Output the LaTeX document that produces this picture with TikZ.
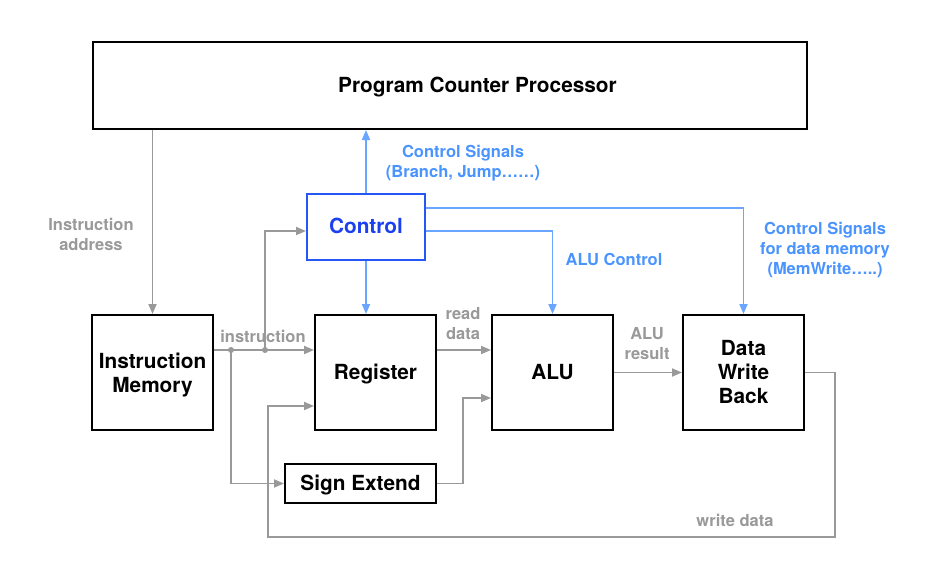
\documentclass[tikz,border=0pt]{standalone}
\usepackage{fontspec}
\setmainfont{TeX Gyre Heros}
\usetikzlibrary{arrows.meta}
\definecolor{gr}{HTML}{999999}
\definecolor{bl}{HTML}{6AA6FF}
\definecolor{bltxt}{HTML}{4A94FF}
\definecolor{cbox}{HTML}{2457F5}
\definecolor{ctxt}{HTML}{1A40F0}
\begin{document}
\begin{tikzpicture}[x=1pt,y=-1pt,
  box/.style={draw=black,line width=2pt,fill=white,inner sep=0pt,align=center,font=\fontsize{20.8}{24}\selectfont\bfseries},
  one/.style={text height=14.9pt,text depth=0pt},
  garr/.style={draw=gr,line width=1.8pt,-{Triangle[length=10pt,width=8pt]}},
  gline/.style={draw=gr,line width=1.8pt},
  barr/.style={draw=bl,line width=1.8pt,-{Triangle[length=10pt,width=8pt]}},
  glab/.style={text=gr,align=center,inner sep=0pt,font=\fontsize{16.5}{20}\selectfont\bfseries},
  blab/.style={text=bltxt,align=center,inner sep=0pt,font=\fontsize{16.5}{20}\selectfont\bfseries},
  dot/.style={fill=gr,circle,inner sep=0pt,minimum size=6pt}]
\useasboundingbox (0,0) rectangle (929,581);
\fill[white] (0,0) rectangle (929,581);
% boxes
\node[box,one,minimum width=714pt,minimum height=87pt] (pc) at (450,85.5) {\hspace*{55pt}Program Counter Processor};
\node[box,minimum width=121pt,minimum height=115pt] (im) at (152.5,372.5) {Instruction\\\smash{Memory}};
\node[box,one,draw=cbox,text=ctxt,minimum width=118pt,minimum height=66pt] (ctl) at (366,226.5) {Control};
\node[box,one,minimum width=121pt,minimum height=115pt] (reg) at (375.5,372.5) {Register};
\node[box,one,minimum width=121pt,minimum height=115pt] (alu) at (552.5,372.5) {ALU};
\node[box,minimum width=121pt,minimum height=115pt] (dwb) at (743.5,372.5) {Data\\Write\\Back};
\node[box,one,minimum width=151pt,minimum height=39pt] (se) at (360.5,483.5) {Sign Extend};
% labels
\node[glab] (lia) at (91,234.5) {Instruction\\address};
\node[glab] (lins) at (263,336) {instruction};
\node[glab] (lrd) at (463,324) {read\\data};
\node[glab] (lar) at (647,343.5) {ALU\\result};
\node[glab] (lwd) at (735,520.5) {write data};
\node[blab] (lcs) at (463,163.5) {Control Signals\\(Branch, Jump……)};
\node[blab] (lac) at (614,259) {ALU Control};
\node[blab] (lcd) at (825,250) {Control Signals\\for data memory\\(MemWrite…..)};
% coordinates
\coordinate (d1) at (231,350);
\coordinate (d2) at (265,350);
\coordinate (c1) at (265,231);
\coordinate (s1) at (463,483.5);
\coordinate (s2) at (463,398);
\coordinate (w1) at (835,372.5);
\coordinate (w2) at (835,537);
\coordinate (w3) at (268,537);
\coordinate (w4) at (268,406);
% gray connectors
\draw[garr] (im.north |- pc.south) -- (im.north);
\draw[garr] (im.east |- d1) -- (reg.west |- d1);
\draw[garr] (d2) -- (c1) -- (ctl.west |- c1);
\draw[garr] (d1) -- (d1 |- se.west) -- (se.west);
\draw[garr] (se.east) -- (s1) -- (s2) -- (alu.west |- s2);
\draw[garr] (reg.east |- d1) -- (alu.west |- d1);
\draw[garr] (alu.east) -- (dwb.west);
\draw[garr] (dwb.east) -- (w1) -- (w2) -- (w3) -- (w4) -- (reg.west |- w4);
\node[dot] (dot1) at (d1) {};
\node[dot] (dot2) at (d2) {};
% blue connectors
\draw[barr] (ctl.north) -- (ctl.north |- pc.south);
\draw[barr] (ctl.south) -- (ctl.south |- reg.north);
\coordinate (a1) at (ctl.east |- 0,231);
\draw[barr] (a1) -- (alu.north |- a1) -- (alu.north);
\coordinate (m1) at (ctl.east |- 0,208);
\draw[barr] (m1) -- (dwb.north |- m1) -- (dwb.north);
\end{tikzpicture}
\end{document}
